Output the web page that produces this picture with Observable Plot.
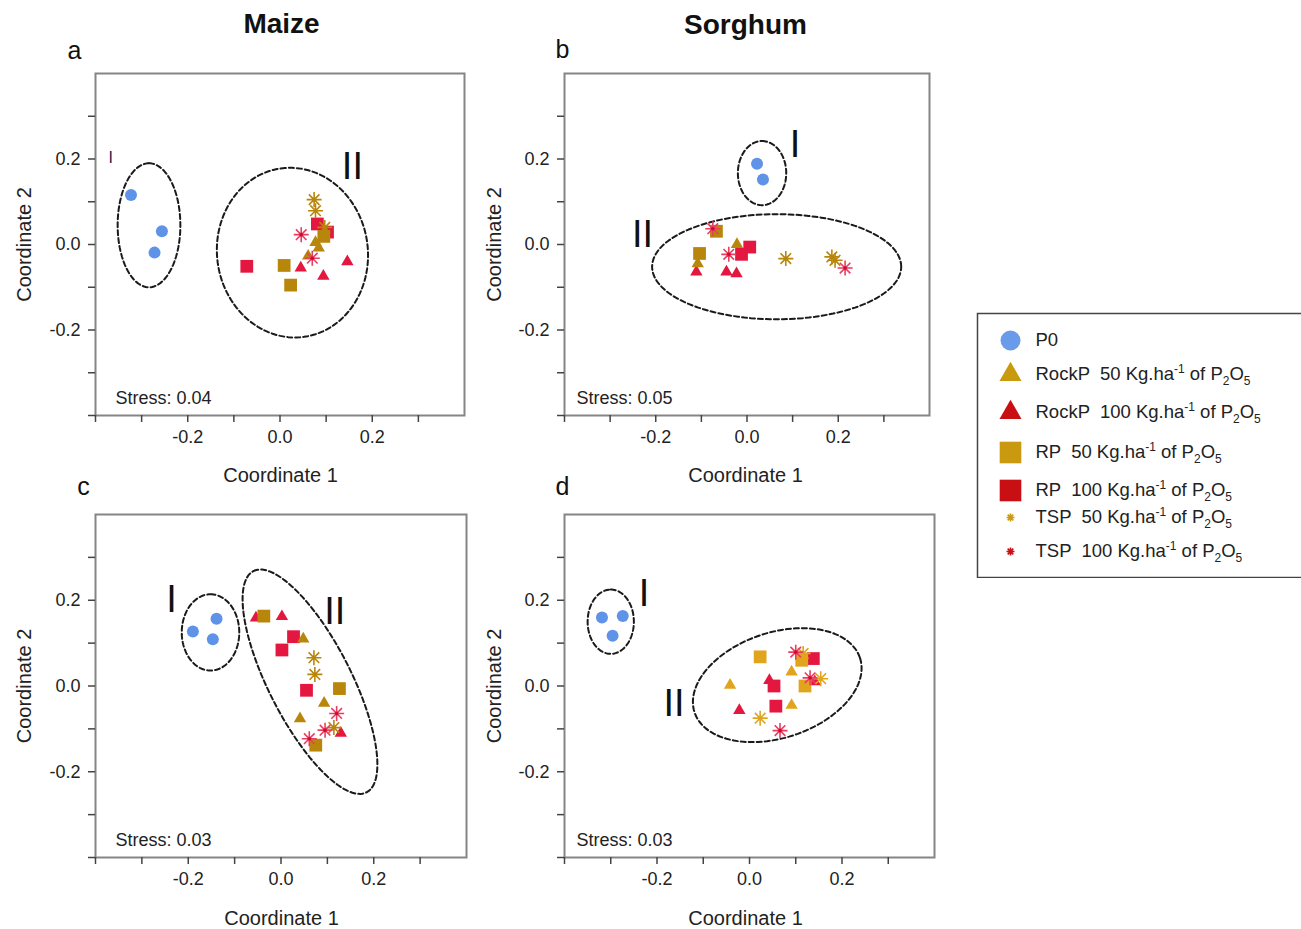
<!DOCTYPE html>
<html><head><meta charset="utf-8">
<script src="https://cdn.jsdelivr.net/npm/d3@7"></script>
<script src="https://cdn.jsdelivr.net/npm/@observablehq/plot@0.6"></script>
<style>
html,body{margin:0;padding:0;background:#fff;overflow:hidden;}
#root{position:relative;width:1301px;height:929px;overflow:hidden;font-family:"Liberation Sans",Arial,sans-serif;}
#root > svg{position:absolute;}
</style></head><body><div id="root"></div>
<script>
// ---------- data ----------
const treatments = ["P0","RockP 50","RockP 100","RP 50","RP 100","TSP 50","TSP 100"];
const drawOrder = ["P0","RockP 100","RP 100","TSP 50","RP 50","RockP 50","TSP 100"];
const xMinorTicks = [-0.4,-0.3,-0.2,-0.1,0,0.1,0.2,0.3];
const yMinorTicks = [-0.4,-0.3,-0.2,-0.1,0,0.1,0.2,0.3];
const labeledTicks = [-0.2,0,0.2];

// [treatment, Coordinate 1, Coordinate 2]
const maizeA = [
  ["P0",-0.323,0.116],["P0",-0.256,0.031],["P0",-0.272,-0.019],
  ["TSP 50",0.074,0.105],["TSP 50",0.077,0.079],["TSP 50",0.097,0.040],
  ["RP 100",-0.072,-0.051],["RP 100",0.081,0.048],["RP 100",0.103,0.029],
  ["RP 50",0.009,-0.049],["RP 50",0.023,-0.095],["RP 50",0.095,0.019],
  ["RockP 50",0.077,0.005],["RockP 50",0.084,-0.008],["RockP 50",0.061,-0.027],
  ["RockP 100",0.045,-0.055],["RockP 100",0.094,-0.074],["RockP 100",0.146,-0.040],
  ["TSP 100",0.046,0.023],["TSP 100",0.070,-0.032]
];
const sorghumB = [
  ["P0",0.022,0.189],["P0",0.035,0.152],
  ["TSP 50",0.085,-0.033],["TSP 50",0.186,-0.029],["TSP 50",0.193,-0.037],
  ["RP 50",-0.067,0.031],["RP 50",-0.104,-0.021],
  ["RockP 50",-0.108,-0.045],["RockP 50",-0.022,0.0],
  ["RP 100",0.006,-0.006],["RP 100",-0.012,-0.023],
  ["RockP 100",-0.111,-0.064],["RockP 100",-0.045,-0.064],["RockP 100",-0.023,-0.068],
  ["TSP 100",-0.075,0.037],["TSP 100",-0.040,-0.023],["TSP 100",0.215,-0.055]
];
const maizeC = [
  ["P0",-0.190,0.127],["P0",-0.139,0.157],["P0",-0.147,0.109],
  ["RP 50",-0.037,0.163],["RP 50",0.126,-0.006],["RP 50",0.075,-0.138],
  ["RP 100",0.027,0.115],["RP 100",0.002,0.084],["RP 100",0.055,-0.010],
  ["RockP 100",-0.054,0.159],["RockP 100",0.002,0.162],["RockP 100",0.129,-0.110],
  ["RockP 50",0.048,0.110],["RockP 50",0.093,-0.040],["RockP 50",0.041,-0.076],
  ["TSP 50",0.071,0.066],["TSP 50",0.073,0.027],["TSP 50",0.114,-0.097],
  ["TSP 100",0.120,-0.064],["TSP 100",0.095,-0.103],["TSP 100",0.061,-0.123]
];
const sorghumD = [
  ["P0",-0.319,0.160],["P0",-0.274,0.163],["P0",-0.296,0.117],
  ["RP 50",0.023,0.068],["RP 50",0.113,0.060],["RP 50",0.120,0.0],
  ["RP 100",0.138,0.064],["RP 100",0.053,0.0],["RP 100",0.057,-0.047],
  ["RockP 100",0.043,0.013],["RockP 100",-0.022,-0.057],["RockP 100",0.141,0.010],
  ["RockP 50",0.091,0.033],["RockP 50",-0.042,0.002],["RockP 50",0.091,-0.045],
  ["TSP 50",0.116,0.076],["TSP 50",0.154,0.017],["TSP 50",0.023,-0.075],
  ["TSP 100",0.100,0.079],["TSP 100",0.131,0.019],["TSP 100",0.066,-0.104]
];

// ellipses: [cx, cy, ux, uy, vx, vy] (conjugate half-axis vectors, data units)
const ellipsesA = [[-0.284,0.045,0,0.145,0.068,0],[0.027,-0.019,-0.025,0.197,0.162,0.024]];
const ellipsesB = [[0.033,0.167,0,0.075,0.053,0],[0.065,-0.052,0.273,0,0,0.123]];
const ellipsesC = [[-0.152,0.125,0,0.089,0.062,0],[0.0625,0.010,-0.122,0.258,0.079,0.044]];
const ellipsesD = [[-0.300,0.150,0,0.075,0.050,0],[0.060,0.002,0.179,0.063,0.035,-0.117]];

// cluster labels: [text, x, y, big?]
const groupsA = [["I",-0.367,0.203,false],["II",0.157,0.181,true]];
const groupsB = [["I",0.105,0.232,true],["II",-0.229,0.022,true]];
const groupsC = [["I",-0.236,0.200,true],["II",0.116,0.173,true]];
const groupsD = [["I",-0.228,0.216,true],["II",-0.163,-0.041,true]];

const stressValues = ["Stress: 0.04","Stress: 0.05","Stress: 0.03","Stress: 0.03"];
const crops = ["Maize","Sorghum"];
const panelLetters = ["a","b","c","d"];

// ---------- styles ----------
const BLUE = "#5e93e8", GOLD = "#b8860b", GOLD_D = "#e0a51c", RED = "#e3173f", RED_STAR = "#ea3d62";
const asterisk8 = {draw(ctx, size){const r = Math.sqrt(size/Math.PI);
  for (let k=0;k<4;k++){const a=k*Math.PI/4; ctx.moveTo(r*Math.cos(a), r*Math.sin(a)); ctx.lineTo(-r*Math.cos(a), -r*Math.sin(a));}}};
function styleFor(t, gold){
  switch(t){
    case "P0": return {symbol:"circle", r:6, fill:BLUE};
    case "RockP 50": return {symbol:"triangle", r:4.6, fill:gold};
    case "RockP 100": return {symbol:"triangle", r:4.6, fill:RED};
    case "RP 50": return {symbol:"square", r:7.2, fill:gold};
    case "RP 100": return {symbol:"square", r:7.2, fill:RED};
    case "TSP 50": return {symbol:asterisk8, r:7.5, fill:"none", stroke:gold, strokeWidth:1.6};
    case "TSP 100": return {symbol:asterisk8, r:7.5, fill:"none", stroke:RED_STAR, strokeWidth:1.6};
  }
}
const FONT = "Liberation Sans, Arial, sans-serif";
const root = document.getElementById("root");

function makePanel(cfg){
  const {data, ellipses, groups, stress, gold, frame, box, title, titlePos, letter, letterPos, stressPos, xLabelPos, yLabelX} = cfg;
  const [fx0, fx1, fy0, fy1] = frame;
  const [bx, by, bw, bh] = box;
  const ellPts = ellipses.flatMap((e,i) => d3.range(0, 361, 3).map(deg => {
    const t = deg*Math.PI/180;
    return {id:i, x:e[0]+e[2]*Math.cos(t)+e[4]*Math.sin(t), y:e[1]+e[3]*Math.cos(t)+e[5]*Math.sin(t)};
  }));
  const fmt = d => d.toFixed(1);
  const txt = {lineAnchor:"middle", fill:"#222", fontFamily:FONT};
  const marks = [
    Plot.frame({stroke:"#858585", strokeWidth:2}),
    Plot.axisX({ticks:xMinorTicks, tickSize:7, tickFormat:()=>"", label:null, strokeWidth:1.5, stroke:"#444"}),
    Plot.axisY({ticks:yMinorTicks, tickSize:7, tickFormat:()=>"", label:null, strokeWidth:1.5, stroke:"#444"}),
    Plot.axisX({ticks:labeledTicks, tickSize:0, tickPadding:15, tickFormat:fmt, label:null, fontSize:18, fill:"#222"}),
    Plot.axisY({ticks:labeledTicks, tickSize:0, tickPadding:15, tickFormat:fmt, label:null, fontSize:18, fill:"#222"}),
    Plot.line(ellPts, {x:"x", y:"y", z:"id", stroke:"#1a1a1a", strokeWidth:2, strokeDasharray:"5,3"})
  ];
  for (const t of drawOrder){
    const pts = data.filter(d => d[0] === t);
    if (!pts.length) continue;
    const s = styleFor(t, gold);
    marks.push(Plot.dot(pts, {x:d=>d[1], y:d=>d[2], ...s}));
    if (t === "TSP 100") marks.push(Plot.dot(pts, {x:d=>d[1], y:d=>d[2], r:1.8, fill:"#c8102e"}));
  }
  marks.push(Plot.text(groups.filter(g=>g[3]), {x:d=>d[1], y:d=>d[2], text:d=>d[0], fontSize:38, ...txt, fill:"#111"}));
  marks.push(Plot.text(groups.filter(g=>!g[3]), {x:d=>d[1], y:d=>d[2], text:d=>d[0], fontSize:16, ...txt, fill:"#2a1a4a"}));
  marks.push(Plot.text([stress], {text:d=>d, frameAnchor:"bottom-left", dx:stressPos[0]-fx0, dy:stressPos[1]-fy1, textAnchor:"start", fontSize:18, ...txt}));
  marks.push(Plot.text(["Coordinate 1"], {text:d=>d, frameAnchor:"bottom", dx:xLabelPos[0]-(fx0+fx1)/2, dy:xLabelPos[1]-fy1, textAnchor:"middle", fontSize:20, ...txt}));
  marks.push(Plot.text(["Coordinate 2"], {text:d=>d, frameAnchor:"left", dx:yLabelX-fx0, rotate:-90, textAnchor:"middle", fontSize:20, ...txt}));
  marks.push(Plot.text([letter], {text:d=>d, frameAnchor:"top-left", dx:letterPos[0]-fx0, dy:letterPos[1]-fy0, textAnchor:"middle", fontSize:25, ...txt, fill:"#111"}));
  if (title) marks.push(Plot.text([title], {text:d=>d, frameAnchor:"top", dx:titlePos[0]-(fx0+fx1)/2, dy:titlePos[1]-fy0, textAnchor:"middle", fontSize:28, fontWeight:"bold", ...txt, fill:"#111"}));
  const svg = Plot.plot({
    width:bw, height:bh,
    marginLeft:fx0-bx, marginRight:bx+bw-fx1, marginTop:fy0-by, marginBottom:by+bh-fy1,
    x:{domain:[-0.4,0.4], axis:null, label:null},
    y:{domain:[-0.4,0.4], axis:null, label:null},
    style:{fontFamily:FONT, color:"#222", background:"transparent", overflow:"visible"},
    marks
  });
  svg.style.left = bx+"px"; svg.style.top = by+"px";
  root.appendChild(svg);
}

makePanel({data:maizeA, ellipses:ellipsesA, groups:groupsA, stress:stressValues[0], gold:GOLD,
  frame:[95,464,73,415], box:[0,0,480,500], title:crops[0], titlePos:[281,24], letter:panelLetters[0], letterPos:[74,50],
  stressPos:[115,398], xLabelPos:[280,475], yLabelX:24});
makePanel({data:sorghumB, ellipses:ellipsesB, groups:groupsB, stress:stressValues[1], gold:GOLD,
  frame:[564,929,73,415], box:[480,0,480,500], title:crops[1], titlePos:[745,25], letter:panelLetters[1], letterPos:[562,49],
  stressPos:[576,398], xLabelPos:[745,475], yLabelX:494});
makePanel({data:maizeC, ellipses:ellipsesC, groups:groupsC, stress:stressValues[2], gold:GOLD,
  frame:[95,466,514,857], box:[0,460,480,469], title:null, letter:panelLetters[2], letterPos:[83,486],
  stressPos:[115,840], xLabelPos:[281,918], yLabelX:24});
makePanel({data:sorghumD, ellipses:ellipsesD, groups:groupsD, stress:stressValues[3], gold:GOLD_D,
  frame:[564,934,514,857], box:[480,460,480,469], title:null, letter:panelLetters[3], letterPos:[562,486],
  stressPos:[576,840], xLabelPos:[745,918], yLabelX:494});

// ---------- legend ----------
const LG_GOLD = "#c99a10", LG_RED = "#c80f14";
const legendStyle = {
  "P0":{symbol:"circle", r:10, fill:"#6a9bea"},
  "RockP 50":{symbol:"triangle", r:8.2, fill:LG_GOLD},
  "RockP 100":{symbol:"triangle", r:8.2, fill:LG_RED},
  "RP 50":{symbol:"square", r:12.2, fill:LG_GOLD},
  "RP 100":{symbol:"square", r:12.2, fill:LG_RED},
  "TSP 50":{symbol:asterisk8, r:4, fill:"none", stroke:LG_GOLD, strokeWidth:1.6},
  "TSP 100":{symbol:asterisk8, r:4, fill:"none", stroke:LG_RED, strokeWidth:1.6}
};
const legendMarks = [Plot.frame({stroke:"#444", strokeWidth:1.5})];
treatments.forEach((t,i) => {
  legendMarks.push(Plot.dot([i], {y:d=>d, frameAnchor:"left", dx:33, ...legendStyle[t]}));
});
legendMarks.push(Plot.text(treatments.map((t,i)=>i), {y:d=>d, text:d=>treatments[d], frameAnchor:"left", dx:58, textAnchor:"start", lineAnchor:"middle", fontSize:18.5, fill:"#222", fontFamily:FONT}));
const legend = Plot.plot({
  width:340, height:266, marginLeft:1, marginTop:1, marginBottom:1, marginRight:1,
  y:{type:"linear", domain:[0,1,2,3,4,5,6], range:[28,62,100,140,178,205,239], axis:null},
  style:{fontFamily:FONT, background:"transparent"},
  marks:legendMarks
});
legend.style.left = "976px"; legend.style.top = "312px";
root.appendChild(legend);
legend.querySelectorAll("text").forEach(el => {
  const t = el.textContent;
  if (!treatments.includes(t) || t === "P0") return;
  const [name, dose] = t.split(" ");
  el.setAttribute("style", "white-space:pre");
  el.innerHTML = `${name}  ${dose} Kg.ha<tspan dy="-7" font-size="12">-1</tspan><tspan dy="7"> of P</tspan><tspan dy="5" font-size="12">2</tspan><tspan dy="-5">O</tspan><tspan dy="5" font-size="12">5</tspan>`;
});
</script></body></html>
